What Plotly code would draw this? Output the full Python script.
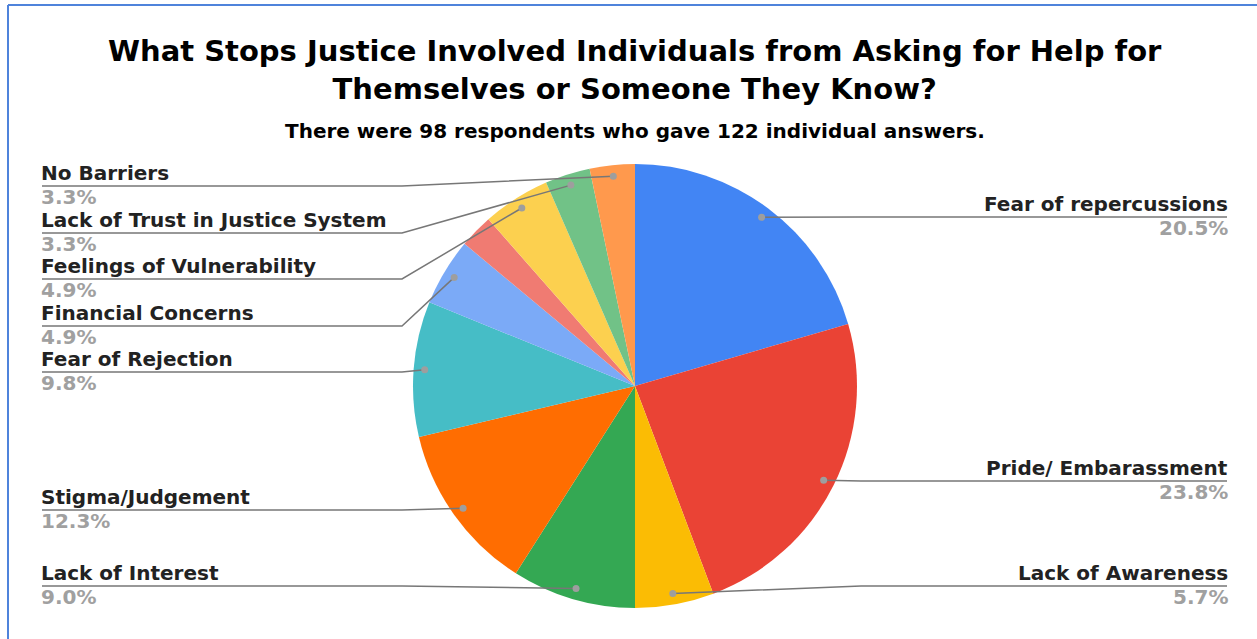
import math
import plotly.graph_objects as go

# Survey answers (counts out of 122 individual answers), clockwise from 12 o'clock
categories = [
    "Fear of repercussions",
    "Pride/ Embarassment",
    "Lack of Awareness",
    "Lack of Interest",
    "Stigma/Judgement",
    "Fear of Rejection",
    "Financial Concerns",
    "Other",
    "Feelings of Vulnerability",
    "Lack of Trust in Justice System",
    "No Barriers",
]
counts = [25, 29, 7, 11, 15, 12, 6, 3, 6, 4, 4]
colors = ["#4285F4", "#EA4335", "#FBBC04", "#34A853", "#FF6D01", "#46BDC6",
          "#7BAAF7", "#F07B72", "#FCD04F", "#71C287", "#FF994D"]

title_lines = ["What Stops Justice Involved Individuals from Asking for Help for",
               "Themselves or Someone They Know?"]
subtitle = "There were 98 respondents who gave 122 individual answers."

# Label placement: side and leader-line height (pixels) for each labelled slice
label_side = {
    "Fear of repercussions": ("right", 217),
    "Pride/ Embarassment": ("right", 481),
    "Lack of Awareness": ("right", 586),
    "Lack of Interest": ("left", 586),
    "Stigma/Judgement": ("left", 510),
    "Fear of Rejection": ("left", 372),
    "Financial Concerns": ("left", 326),
    "Feelings of Vulnerability": ("left", 279),
    "Lack of Trust in Justice System": ("left", 233),
    "No Barriers": ("left", 186),
}

W, H = 1257, 639
CX, CY, R = 635, 386, 222
LEFT_X, RIGHT_X = 42, 1227
LEFT_ELBOW, RIGHT_ELBOW = 402, 861
FONT = "DejaVu Sans"
LINE_COLOR = "#777777"
DOT_COLOR = "#9e9e9e"
LABEL_SIZE = 20

fig = go.Figure()

fig.add_trace(go.Pie(
    labels=categories,
    values=counts,
    sort=False,
    direction="clockwise",
    rotation=0,
    marker=dict(colors=colors, line=dict(width=0)),
    textinfo="none",
    hoverinfo="skip",
    showlegend=False,
    domain=dict(x=[(CX - R) / W, (CX + R) / W], y=[(H - CY - R) / H, (H - CY + R) / H]),
))

# invisible trace so the pixel-space axes exist for overlays
fig.add_trace(go.Scatter(x=[0, W], y=[0, H], mode="markers",
                         marker=dict(opacity=0), hoverinfo="skip", showlegend=False))

shapes = []
annotations = []
total = sum(counts)
cum = 0.0
for name, v in zip(categories, counts):
    mid = (cum + v / 2) / total * 2 * math.pi
    cum += v
    if name not in label_side:
        continue
    side, ly = label_side[name]
    dx = CX + 0.95 * R * math.sin(mid)
    dy = CY - 0.95 * R * math.cos(mid)
    pct = f"{v / total * 100:.1f}%"
    if side == "left":
        path = f"M {LEFT_X},{ly} L {LEFT_ELBOW},{ly} L {dx:.1f},{dy:.1f}"
        tx, anchor, shift = LEFT_X, "left", -2
    else:
        path = f"M {RIGHT_X},{ly} L {RIGHT_ELBOW},{ly} L {dx:.1f},{dy:.1f}"
        tx, anchor, shift = RIGHT_X, "right", 2
    shapes.append(dict(type="path", path=path, xref="x", yref="y", layer="above",
                       line=dict(color=LINE_COLOR, width=1.5)))
    shapes.append(dict(type="circle", xref="x", yref="y", layer="above",
                       x0=dx - 3.5, x1=dx + 3.5, y0=dy - 3.5, y1=dy + 3.5,
                       fillcolor=DOT_COLOR, line=dict(width=0)))
    annotations.append(dict(x=tx, y=ly, xref="x", yref="y", text=f"<b>{name}</b>",
                            showarrow=False, xanchor=anchor, yanchor="bottom",
                            xshift=shift, borderpad=0,
                            font=dict(family=FONT, size=LABEL_SIZE, color="#222222")))
    annotations.append(dict(x=tx, y=ly - 2, xref="x", yref="y", text=f"<b>{pct}</b>",
                            showarrow=False, xanchor=anchor, yanchor="top",
                            xshift=shift, borderpad=0,
                            font=dict(family=FONT, size=LABEL_SIZE, color="#a0a0a0")))

# title block
annotations.append(dict(x=CX, y=70, xref="x", yref="y", text="<b>" + "<br>".join(title_lines) + "</b>",
                        showarrow=False, xanchor="center", yanchor="middle",
                        font=dict(family=FONT, size=29, color="#000000")))
annotations.append(dict(x=CX, y=131, xref="x", yref="y", text=f"<b>{subtitle}</b>",
                        showarrow=False, xanchor="center", yanchor="middle",
                        font=dict(family=FONT, size=20, color="#000000")))

# frame edges
shapes.append(dict(type="line", xref="x", yref="y", x0=8, x1=W, y0=5, y1=5,
                   line=dict(color="#4f83db", width=2), layer="above"))
shapes.append(dict(type="line", xref="x", yref="y", x0=8, x1=8, y0=5, y1=H,
                   line=dict(color="#4f83db", width=2), layer="above"))

fig.update_layout(
    width=W, height=H,
    margin=dict(l=0, r=0, t=0, b=0),
    paper_bgcolor="white", plot_bgcolor="white",
    xaxis=dict(range=[0, W], visible=False, fixedrange=True, domain=[0, 1]),
    yaxis=dict(range=[H, 0], visible=False, fixedrange=True, domain=[0, 1]),
    shapes=shapes,
    annotations=annotations,
)

fig.write_html("out.html")
